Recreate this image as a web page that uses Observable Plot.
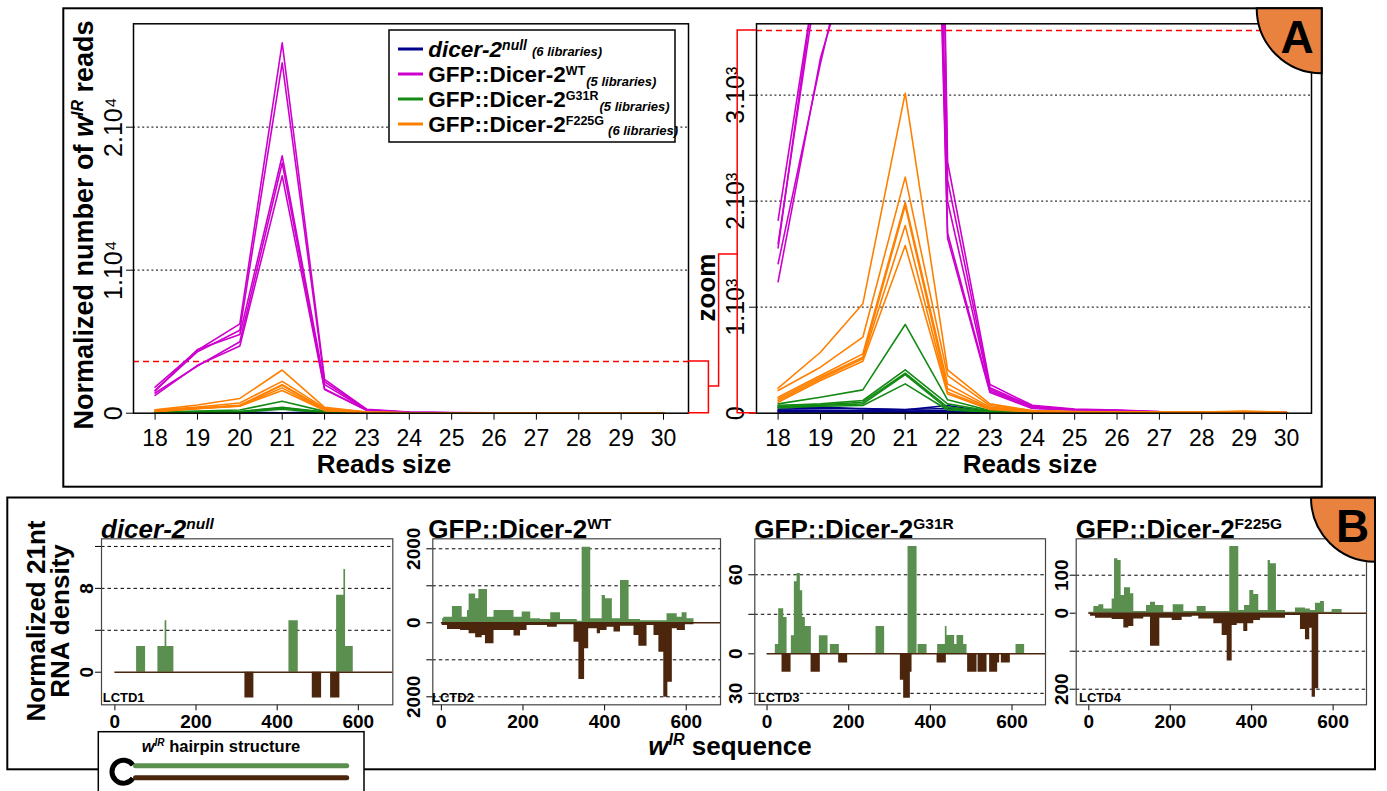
<!DOCTYPE html>
<html><head><meta charset="utf-8">
<script src="https://cdn.jsdelivr.net/npm/d3@7"></script>
<script src="https://cdn.jsdelivr.net/npm/@observablehq/plot@0.6"></script>
<style>
html,body{margin:0;padding:0;background:#fff;}
#root{position:relative;width:1387px;height:791px;overflow:hidden;font-family:"Liberation Sans",Arial,Helvetica,sans-serif;}
#overlay{position:absolute;left:0;top:0;pointer-events:none;}
</style></head><body><div id="root"></div>
<script>
// ---------------- DATA ----------------
const readSizes = [18, 19, 20, 21, 22, 23, 24, 25, 26, 27, 28, 29, 30];

const dicer2NullReads = [
  [57, 60, 40, 31, 72, 10, 4, 3, 2, 2, 1, 1, 1],
  [40, 45, 45, 35, 45, 8, 3, 2, 2, 1, 1, 1, 1],
  [30, 28, 25, 20, 25, 6, 3, 2, 1, 1, 1, 1, 0],
  [25, 20, 18, 15, 20, 5, 2, 1, 1, 1, 0, 0, 0],
  [15, 15, 12, 10, 12, 4, 2, 1, 1, 0, 0, 0, 0],
  [10, 10, 8, 6, 8, 3, 1, 1, 0, 0, 0, 0, 0]
];
const dicer2WTReads = [
  [1820, 4400, 6250, 25900, 2370, 270, 75, 40, 30, 15, 12, 10, 8],
  [1600, 4300, 5800, 24500, 2200, 240, 65, 35, 28, 14, 10, 9, 7],
  [1560, 4450, 5500, 18000, 2000, 225, 55, 32, 25, 12, 10, 8, 6],
  [1410, 3300, 5000, 17500, 1700, 210, 50, 30, 22, 11, 9, 8, 6],
  [1240, 3350, 4700, 16600, 1650, 195, 45, 28, 20, 10, 8, 7, 5]
];
const dicer2G31RReads = [
  [88, 151, 220, 837, 126, 25, 10, 6, 5, 4, 3, 3, 2],
  [72, 88, 120, 409, 88, 20, 8, 5, 4, 3, 3, 2, 2],
  [72, 80, 104, 377, 57, 15, 6, 4, 3, 3, 2, 2, 1],
  [57, 75, 88, 365, 40, 12, 5, 4, 3, 2, 2, 1, 1],
  [50, 65, 72, 277, 30, 10, 4, 3, 2, 2, 1, 1, 1]
];
const dicer2F225GReads = [
  [236, 575, 1032, 3019, 409, 88, 25, 15, 12, 10, 10, 20, 8],
  [214, 434, 717, 2227, 355, 72, 22, 14, 11, 9, 9, 15, 7],
  [151, 355, 560, 1991, 277, 57, 20, 12, 10, 8, 8, 12, 6],
  [135, 340, 528, 1959, 230, 50, 18, 11, 9, 7, 7, 10, 5],
  [120, 325, 513, 1771, 198, 41, 15, 10, 8, 6, 6, 9, 5],
  [104, 308, 491, 1582, 182, 35, 12, 9, 7, 6, 5, 8, 4]
];

const genotypeNames = ["dicer-2", "GFP::Dicer-2", "GFP::Dicer-2", "GFP::Dicer-2"];
const genotypeAlleles = ["null", "WT", "G31R", "F225G"];
const libraryCounts = [6, 5, 5, 6];
const genotypeColors = ["#00008b", "#cd00cd", "#138a13", "#ff8000"];
const readsByGenotype = [dicer2NullReads, dicer2WTReads, dicer2G31RReads, dicer2F225GReads];

const zoomLimit = 3610;
const fullTicks = [0, 10000, 20000];
const fullTickLabels = ["0", "1.10\u2074", "2.10\u2074"];
const zoomTicks = [0, 1000, 2000, 3000];
const zoomTickLabels = ["0", "1.10\u00b3", "2.10\u00b3", "3.10\u00b3"];

// 21nt density along the w^IR hairpin: [position, density] step breakpoints
const nullPlus = [[53.5,2.45],[75.7,0],[106,2.45],[123.8,4.9],[128,2.45],[145.4,0],[429,4.9],[452,0],[546.5,7.35],[564.5,9.8],[568.6,2.45],[587.6,0]];
const nullMinus = [[320.5,-2.45],[342.6,0],[486.5,-2.45],[509.5,0],[531.7,-2.45],[554.6,0]];
const wtPlus = [[3,108],[6,150],[27,440],[51,150],[64,330],[68,780],[84,650],[92,900],[113,150],[129,330],[178,150],[198,290],[219,108],[243,90],[268,270],[292,90],[333,45],[345,2045],[366,108],[394,740],[402,650],[419,108],[439,1145],[460,90],[488,55],[553,243],[578,150],[590,270],[602,108],[619,0]];
const wtMinus = [[2,-72],[15,-180],[47,-207],[68,-297],[84,-405],[100,-342],[108,-568],[129,-207],[178,-360],[194,-207],[210,-72],[260,-117],[284,-54],[325,-523],[337,-1532],[351,-703],[361,-162],[382,-297],[390,-207],[406,-117],[423,-252],[439,-90],[472,-342],[484,-631],[504,-72],[521,-342],[533,-793],[545,-2009],[555,-1604],[566,-162],[578,-207],[598,-54],[619,0]];
const g31rPlus = [[20.3,7.1],[28.5,34.3],[40.8,27.5],[49,0],[59.5,13.7],[66.9,54.7],[73.5,61],[81.6,47.8],[87.3,27.5],[93.8,20.8],[108.5,0],[128.1,13.7],[149.4,0],[155,7.1],[177.1,0],[266.9,20.8],[288,0],[345.3,81.5],[367.4,0],[369.8,7.1],[391.9,0],[417.8,7.1],[436.7,20.8],[440.8,13.9],[459.5,7.1],[465.3,13.9],[481.6,7.1],[489.8,0],[609.8,7.1],[630.9,0]];
const g31rMinus = [[36.7,-14],[58.8,0],[107.8,-14],[130.5,0],[175.4,-6.9],[197.4,0],[326.5,-20],[334.6,-33.8],[351,-14],[355.1,0],[416.4,-7],[439.1,0],[491.3,-14],[514.3,0],[516.8,-14],[538.8,0],[545.2,-14],[564.8,-7],[569.7,0],[573.8,-7],[595.9,0]];
const f225gPlus = [[0,2.6],[12.3,17.5],[24.6,22],[36.8,11.4],[57.3,37.7],[63.1,143],[71.3,138.6],[79.4,46.5],[87.6,66.7],[102.4,50.9],[110.5,4.4],[141.7,20],[151.5,29],[163.8,20],[184.2,2.6],[207.2,22],[233.4,4.4],[266.1,17.5],[288.2,4.4],[346.2,175.4],[368.3,7],[382.3,20],[395.4,59.6],[405.1,49],[417.4,7],[440.4,138.6],[446.1,130],[460.8,7],[483,2.6],[507.5,14],[532.1,11.4],[544.3,7],[556.6,26.3],[568.9,30.7],[578.7,2.6],[597.6,9.6],[622.1,0]];
const f225gMinus = [[4.2,-7.9],[16.4,-13],[57.3,-16.7],[86,-38.6],[98.2,-35],[110.5,-15],[135,-10.5],[151.5,-86.8],[174.4,-13],[204.7,-19.3],[229.3,-10.5],[253.9,-7.9],[270.1,-15],[307,-28],[327.5,-58.8],[339.8,-126],[352.1,-32.4],[364.4,-28],[380.6,-48],[390.4,-28],[405.1,-19.3],[421.6,-13],[483,-6],[519.8,-43],[532.1,-70],[542.6,-39.5],[548.5,-221],[556.6,-199],[564.7,-3.5],[600,0]];

const libraryIds = ["LCTD1", "LCTD2", "LCTD3", "LCTD4"];
const positionTicks = [0, 200, 400, 600];

// ---------------- DRAW ----------------
const root = document.getElementById("root");
const FONT = '"Liberation Sans", Arial, Helvetica, sans-serif';
const GREEN = "#5a8f4f", BROWN = "#4b250c", RED = "#ff0000", ORANGE = "#e8823e";

function place(svg, left, top) {
  svg.style.position = "absolute";
  svg.style.left = left + "px";
  svg.style.top = top + "px";
  root.appendChild(svg);
}
const toRows = libs => libs.flatMap((vals, lib) => vals.map((reads, i) => ({size: readSizes[i], reads, lib})));

function readsPlot({width, mL, mR, yMax, ticks, labels, grid, dx}) {
  return Plot.plot({
    width, height: 470, marginLeft: mL, marginRight: mR, marginTop: 15.3, marginBottom: 65.3,
    style: {background: "transparent", fontFamily: FONT, fontSize: "23px", color: "#000", overflow: "visible"},
    x: {domain: [17.49, 30.59], ticks: readSizes, tickSize: 7, tickPadding: 9, tickFormat: d => String(d), label: null},
    y: {domain: [0, yMax], ticks, tickSize: 7, tickFormat: () => "", label: null},
    marks: [
      Plot.ruleY(grid, {stroke: "#333", strokeWidth: 1.2, strokeDasharray: "2,2.6"}),
      Plot.ruleY([zoomLimit], {stroke: RED, strokeWidth: 1.5, strokeDasharray: "6,4"}),
      ...readsByGenotype.map((libs, g) => Plot.line(toRows(libs), {x: "size", y: "reads", z: "lib", stroke: genotypeColors[g], strokeWidth: 1.6, clip: true})),
      Plot.frame({stroke: "#000", strokeWidth: 1.5}),
      Plot.text(ticks.map((v, i) => ({v, t: labels[i]})), {y: "v", text: "t", frameAnchor: "left", textAnchor: "middle", lineAnchor: "middle", dx: -dx, rotate: -90, fontSize: 25})
    ]
  });
}
place(readsPlot({width: 640, mL: 70, mR: 15, yMax: 27231, ticks: fullTicks, labels: fullTickLabels, grid: [10000, 20000], dx: 20}), 63, 8);
place(readsPlot({width: 630, mL: 66, mR: 9, yMax: 3673.6, ticks: zoomTicks, labels: zoomTickLabels, grid: [1000, 2000, 3000], dx: 21}), 690, 8);

function densityPlot({width, mL, mR, xDomain, yDomain, yTicks, labelTicks, labels, grid, plus, minus, dx}) {
  return Plot.plot({
    width, height: 240, marginLeft: mL, marginRight: mR, marginTop: 38.3, marginBottom: 35.7,
    style: {background: "transparent", fontFamily: FONT, fontSize: "19px", fontWeight: "bold", color: "#000", overflow: "visible"},
    x: {domain: xDomain, ticks: positionTicks, tickSize: 6, tickPadding: 4, label: null},
    y: {domain: yDomain, ticks: yTicks, tickSize: 6, tickFormat: () => "", label: null},
    marks: [
      Plot.ruleY(grid, {stroke: "#000", strokeWidth: 1, strokeDasharray: "3.5,3"}),
      Plot.areaY(plus, {x: d => d[0], y1: 0, y2: d => d[1], curve: "step-after", fill: GREEN}),
      Plot.areaY(minus, {x: d => d[0], y1: 0, y2: d => d[1], curve: "step-after", fill: BROWN}),
      Plot.ruleY([0], {x1: 0, x2: xDomain[1], stroke: BROWN, strokeWidth: 1.5}),
      Plot.frame({stroke: "#444", strokeWidth: 1.2}),
      Plot.text(labelTicks.map((v, i) => ({v, t: labels[i]})), {y: "v", text: "t", frameAnchor: "left", textAnchor: "middle", lineAnchor: "middle", dx: -dx, rotate: -90, fontSize: 19})
    ]
  });
}
place(densityPlot({width: 336, mL: 35, mR: 9.7, xDomain: [-33, 685], yDomain: [-3.11, 12.73], yTicks: [0, 4, 8, 12], labelTicks: [0, 8], labels: ["0", "8"], grid: [4, 8, 12], plus: nullPlus, minus: nullMinus, dx: 15}), 66, 500);
place(densityPlot({width: 334, mL: 36.3, mR: 10, xDomain: [-21, 684], yDomain: [-2216, 2270], yTicks: [-2000, -1000, 0, 1000, 2000], labelTicks: [-2000, 0, 2000], labels: ["2000", "0", "2000"], grid: [-2000, -1000, 1000, 2000], plus: wtPlus, minus: wtMinus, dx: 19}), 396, 500);
place(densityPlot({width: 335, mL: 34.3, mR: 10, xDomain: [-30, 682], yDomain: [-38.7, 87.3], yTicks: [-30, 0, 30, 60], labelTicks: [-30, 0, 60], labels: ["30", "0", "60"], grid: [-30, 30, 60], plus: g31rPlus, minus: g31rMinus, dx: 19}), 720, 500);
place(densityPlot({width: 330, mL: 30.7, mR: 9, xDomain: [-31, 682], yDomain: [-241, 195.8], yTicks: [-200, -100, 0, 100], labelTicks: [-200, 0, 100], labels: ["200", "0", "100"], grid: [-200, -100, 100], plus: f225gPlus, minus: f225gMinus, dx: 14}), 1045, 500);

// ---------------- OVERLAY (frames, legend, titles) ----------------
const legendRows = genotypeNames.map((name, g) => {
  const y = 49 + 25 * g;
  const ital = g === 0 ? ' font-style="italic"' : '';
  const libDy = g === 0 ? 6 : (g === 3 ? 10 : 11);
  const libDx = g === 0 ? 5 : (g === 3 ? 4 : 1);
  const supSize = g === 0 ? 14 : 12.5;
  return `<line x1="398" x2="423" y1="${y}" y2="${y}" stroke="${genotypeColors[g]}" stroke-width="3"/>
  <text x="428.3" y="${y + 7.5}" font-size="22.5" font-weight="bold"><tspan${ital}>${name}</tspan><tspan font-size="${supSize}"${ital} dy="-7">${genotypeAlleles[g]}</tspan><tspan font-size="13" font-style="italic" dx="${libDx}" dy="${libDy}">(${libraryCounts[g]} libraries)</tspan></text>`;
}).join("");

const titleX = [101, 428.3, 754.3, 1075.7];
const lctdX = [102.7, 432, 757.7, 1079];
const titles = genotypeNames.map((name, g) => {
  const ital = g === 0 ? ' font-style="italic"' : '';
  return `<text x="${titleX[g]}" y="537.7" font-size="26" font-weight="bold"><tspan${ital}>${name}</tspan><tspan font-size="15.5"${ital} dy="-9">${genotypeAlleles[g]}</tspan></text>
  <text x="${lctdX[g]}" y="701.5" font-size="13" font-weight="bold">${libraryIds[g]}</text>`;
}).join("");

const overlay = `<svg id="overlay" width="1387" height="791" font-family='${FONT}'>
 <rect x="63.3" y="8.3" width="1258.4" height="478.4" fill="none" stroke="#000" stroke-width="2"/>
 <rect x="7.3" y="497.5" width="1367.7" height="271.8" fill="none" stroke="#000" stroke-width="2"/>
 <path d="M688,361 H708.4 V412.7 H688" fill="none" stroke="${RED}" stroke-width="1.5"/>
 <path d="M708.4,386 H718.6 V254 H737.2" fill="none" stroke="${RED}" stroke-width="1.5"/>
 <path d="M756,30 H737.2 V412.7 H756" fill="none" stroke="${RED}" stroke-width="1.5"/>
 <rect x="389" y="30" width="286" height="112" fill="#fff" stroke="#000" stroke-width="1.5"/>
 ${legendRows}
 <text transform="translate(92.5,225) rotate(-90)" text-anchor="middle" font-size="27" font-weight="bold">Normalized number of <tspan font-style="italic">w</tspan><tspan font-size="16" font-style="italic" dy="-10">IR</tspan><tspan dy="10"> reads</tspan></text>
 <text transform="translate(715,287.5) rotate(-90)" text-anchor="middle" font-size="26" font-weight="bold">zoom</text>
 <text x="384" y="473" text-anchor="middle" font-size="26" font-weight="bold">Reads size</text>
 <text x="1030" y="473" text-anchor="middle" font-size="26" font-weight="bold">Reads size</text>
 <path d="M1256.7,8.3 A65,65 0 0 0 1321.7,73.3 L1321.7,8.3 Z" fill="${ORANGE}" stroke="#000" stroke-width="2"/>
 <text x="1297" y="53.3" text-anchor="middle" font-size="46" font-weight="bold">A</text>
 ${titles}
 <text transform="translate(45,621) rotate(-90)" text-anchor="middle" font-size="26" font-weight="bold">Normalized 21nt</text>
 <text transform="translate(69,621) rotate(-90)" text-anchor="middle" font-size="26" font-weight="bold">RNA density</text>
 <text x="730" y="755" text-anchor="middle" font-size="26" font-weight="bold"><tspan font-style="italic">w</tspan><tspan font-size="16" font-style="italic" dy="-10">IR</tspan><tspan dy="10"> sequence</tspan></text>
 <path d="M1311,497.7 A64,64 0 0 0 1375,561.7 L1375,497.7 Z" fill="${ORANGE}" stroke="#000" stroke-width="2"/>
 <text x="1352.5" y="541.7" text-anchor="middle" font-size="46" font-weight="bold">B</text>
 <rect x="98.3" y="731.7" width="265.7" height="80" fill="#fff" stroke="#000" stroke-width="1.5"/>
 <text x="221" y="751.7" text-anchor="middle" font-size="16.5" font-weight="bold"><tspan font-style="italic">w</tspan><tspan font-size="10" font-style="italic" dy="-6">IR</tspan><tspan dy="6"> hairpin structure</tspan></text>
 <path d="M132.9,765.1 A11.5,11.5 0 1 0 132.9,778.3" fill="none" stroke="#000" stroke-width="5"/>
 <line x1="135.5" x2="346.7" y1="765.7" y2="765.7" stroke="${GREEN}" stroke-width="5" stroke-linecap="round"/>
 <line x1="135.5" x2="346.7" y1="777.7" y2="777.7" stroke="${BROWN}" stroke-width="5" stroke-linecap="round"/>
</svg>`;
root.insertAdjacentHTML("beforeend", overlay);
</script>
</body></html>
